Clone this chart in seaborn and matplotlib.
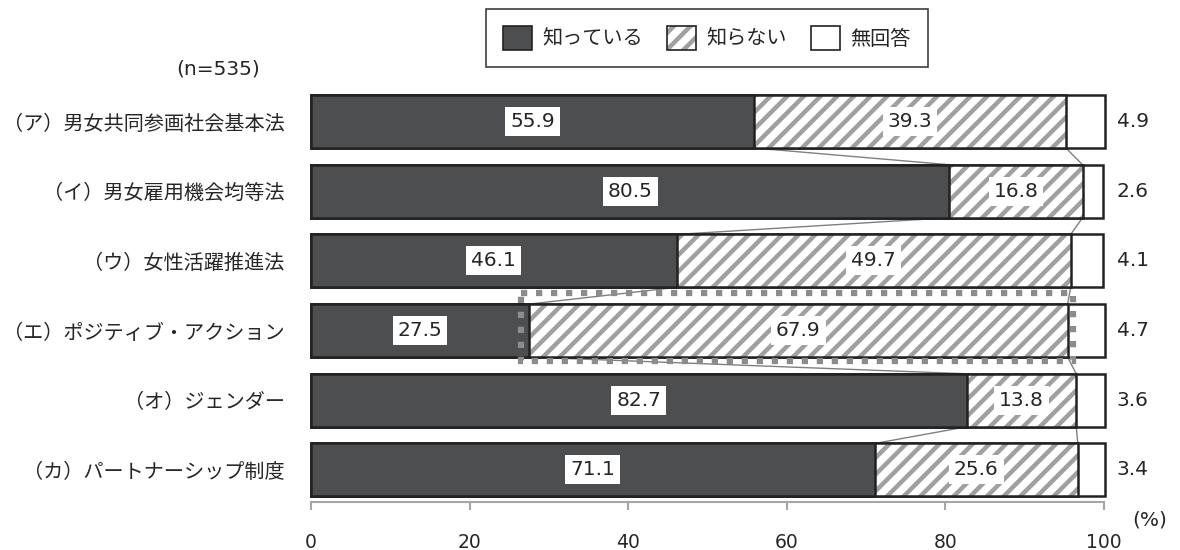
import numpy as np
import pandas as pd
import seaborn as sns
from matplotlib import pyplot as plt
from matplotlib.patches import Patch, Rectangle
from matplotlib.legend_handler import HandlerTuple

# data
items = ["（ア）男女共同参画社会基本法", "（イ）男女雇用機会均等法", "（ウ）女性活躍推進法",
         "（エ）ポジティブ・アクション", "（オ）ジェンダー", "（カ）パートナーシップ制度"]
known = [55.9, 80.5, 46.1, 27.5, 82.7, 71.1]
unknown = [39.3, 16.8, 49.7, 67.9, 13.8, 25.6]
no_answer = [4.9, 2.6, 4.1, 4.7, 3.6, 3.4]
series_names = ["知っている", "知らない", "無回答"]
x_ticks = [0, 20, 40, 60, 80, 100]
sample_note = "(n=535)"
highlight_item = "（エ）ポジティブ・アクション"

sns.set_style("white")
plt.rcParams["font.family"] = ["DejaVu Sans", "Noto Sans CJK JP"]
plt.rcParams["hatch.linewidth"] = 3.2
jp_font = ["Noto Sans CJK JP", "DejaVu Sans"]

DARK = "#4d4e50"
EDGE = "#222222"
HATCH = "#a0a0a0"
TXT = "#262626"
BW = 0.76

df = pd.DataFrame({"item": items, "known": known, "unknown": unknown, "na": no_answer})
df["cum2"] = df["known"] + df["unknown"]
df["total"] = df["cum2"] + df["na"]

fig = plt.figure(figsize=(11.8, 5.5), dpi=100)
ax = fig.add_axes([311 / 1180, 48 / 550, 793 / 1180, 415.3 / 550])

common = dict(data=df, y="item", order=items, orient="h", width=BW, saturation=1,
              errorbar=None, ax=ax)
# white (no answer) layer
sns.barplot(x="total", color="white", edgecolor=EDGE, linewidth=1.8, **common)
# hatched (don't know) layer
sns.barplot(x="cum2", color="white", edgecolor=HATCH, linewidth=0, hatch="//", **common)
sns.barplot(x="cum2", fill=False, color=EDGE, linewidth=1.8, **common)
# dark (know) layer
sns.barplot(x="known", color=DARK, edgecolor=EDGE, linewidth=1.8, **common)
for p in ax.patches:
    p.set_clip_on(False)

# connector lines between rows
for i in range(len(items) - 1):
    for col in ["known", "cum2"]:
        ax.plot([df[col][i], df[col][i + 1]], [i + BW / 2, i + 1 - BW / 2],
                color="#808080", lw=1, zorder=0.5)

box = dict(facecolor="white", edgecolor="none", boxstyle="square,pad=0.25")
for i, r in df.iterrows():
    ax.text(r["known"] / 2, i, f"{r['known']:.1f}", ha="center", va="center",
            fontsize=14.5, color=TXT, bbox=box, zorder=5)
    ax.text(r["known"] + r["unknown"] / 2, i, f"{r['unknown']:.1f}", ha="center",
            va="center", fontsize=14.5, color=TXT, bbox=box, zorder=5)
    ax.text(101.6, i, f"{r['na']:.1f}", ha="left", va="center", fontsize=14.5,
            color=TXT, clip_on=False)

# dotted highlight around the hatched part of (エ)
h = items.index(highlight_item)
ax.add_patch(Rectangle((known[h] - 1.0, h - 0.54), unknown[h] + 1.7, 0.98, fill=False,
                       edgecolor="#8c8c8c", lw=4.5, linestyle=(0, (1, 1.4)),
                       zorder=6, clip_on=False))

ax.set_xlim(0, 100)
ax.set_ylim(5.46, -0.5)
ax.set_xticks(x_ticks)
ax.set_xlabel("")
ax.set_ylabel("")
for s in ["top", "right", "left"]:
    ax.spines[s].set_visible(False)
ax.spines["bottom"].set_color("#a6a6a6")
ax.spines["bottom"].set_linewidth(1.5)
ax.spines["bottom"].set_bounds(0, 100)
ax.tick_params(axis="x", direction="out", length=6, width=1.5, color="#a6a6a6",
               pad=16, labelsize=13.5, labelcolor=TXT, bottom=True)
ax.tick_params(axis="y", length=0, pad=19, labelsize=14.5, labelcolor=TXT)
for lbl in ax.get_yticklabels():
    lbl.set_fontfamily(jp_font)

fig.text(218 / 1180, 1 - 69 / 550, sample_note, ha="center", va="center",
         fontsize=14.5, color=TXT)
fig.text(1150 / 1180, 1 - 520 / 550, "(%)", ha="center", va="center",
         fontsize=14.5, color=TXT)

handles = [
    Patch(facecolor=DARK, edgecolor=EDGE, lw=1.2),
    (Patch(facecolor="white", edgecolor=HATCH, hatch="//", lw=0),
     Patch(fill=False, edgecolor=EDGE, lw=1.2)),
    Patch(facecolor="white", edgecolor=EDGE, lw=1.2),
]
leg = fig.legend(handles, series_names, handler_map={tuple: HandlerTuple(ndivide=1, pad=0)},
                 loc="center", bbox_to_anchor=(707 / 1180, 1 - 38 / 550), ncol=3,
                 prop={"family": jp_font, "size": 14.5}, handlelength=1.45,
                 handleheight=1.4, handletextpad=0.5, columnspacing=1.2, borderpad=0.85,
                 frameon=True, fancybox=False, edgecolor="#404040", framealpha=1)
leg.get_frame().set_linewidth(1.2)
for t in leg.get_texts():
    t.set_color(TXT)

fig.savefig("out.png", dpi=100)
